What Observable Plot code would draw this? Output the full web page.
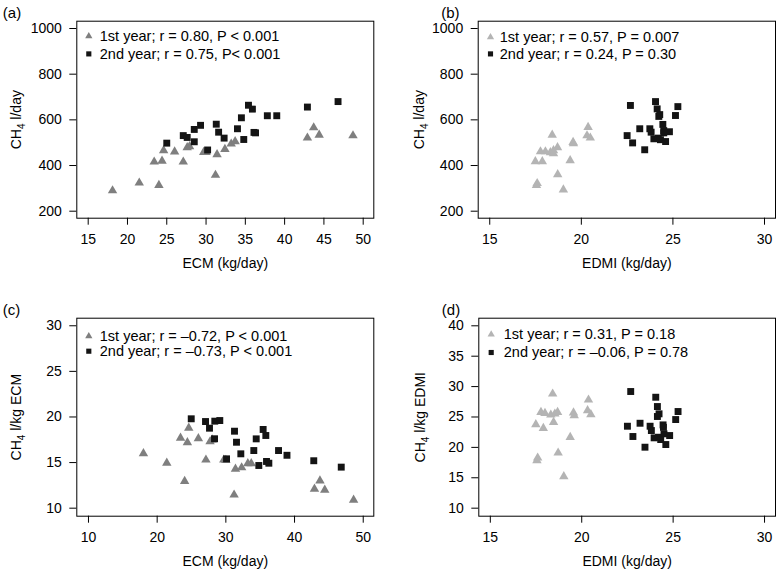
<!DOCTYPE html>
<html><head><meta charset="utf-8">
<script src="https://cdn.jsdelivr.net/npm/d3@7"></script>
<script src="https://cdn.jsdelivr.net/npm/@observablehq/plot@0.6"></script>
<style>
body{margin:0;background:#fff;}
#wrap{position:relative;width:778px;height:569px;background:#fff;overflow:hidden;}
.panel{position:absolute;}
</style></head><body><div id="wrap"></div>
<script>
// ---------- data ----------
// (a) CH4 (l/day) vs ECM (kg/day)
const a1x = [18.1, 21.5, 24.0, 23.4, 24.4, 24.6, 26.0, 27.1, 27.6, 27.9, 29.7, 30.0, 31.4, 31.2, 32.4, 33.2, 33.7, 42.9, 43.7, 44.4, 48.7];
const a1y = [290, 324, 314, 416, 420, 466, 460, 416, 479, 483, 458, 458, 448, 358, 471, 495, 505, 521, 566, 534, 531];
const a2x = [25.0, 27.1, 27.6, 28.5, 28.5, 29.3, 30.2, 31.3, 31.6, 32.3, 34.0, 34.5, 34.8, 35.4, 35.9, 36.1, 36.3, 37.8, 39.0, 42.9, 46.8];
const a2y = [498, 531, 523, 558, 504, 576, 468, 581, 546, 520, 561, 609, 514, 664, 647, 545, 543, 618, 618, 656, 680];
// (b) CH4 (l/day) vs EDMI (kg/day)
const b1x = [18.41, 17.77, 18.04, 18.31, 18.48, 18.70, 18.48, 19.55, 19.57, 17.49, 17.87, 19.39, 18.71, 17.59, 17.55, 19.02, 20.37, 20.31, 20.49];
const b1y = [534, 461, 461, 457, 466, 479, 453, 502, 496, 418, 418, 422, 361, 322, 314, 294, 568, 531, 521];
const b2x = [22.68, 24.05, 24.14, 25.27, 24.23, 24.28, 25.14, 24.45, 23.19, 23.74, 23.81, 24.50, 24.50, 24.81, 22.50, 23.96, 24.20, 24.32, 24.60, 22.80, 23.46];
const b2y = [663, 680, 648, 658, 615, 623, 619, 580, 561, 561, 546, 553, 543, 548, 531, 517, 520, 513, 505, 499, 469];
// (c) CH4 (l/kg ECM) vs ECM
const c1x = [18.0, 21.4, 24.0, 23.4, 24.6, 24.4, 26.0, 27.1, 27.7, 28.0, 29.7, 30.0, 31.2, 31.4, 32.3, 33.2, 33.7, 42.9, 43.7, 44.4, 48.6];
const c1y = [16.0, 14.95, 12.96, 17.7, 18.8, 17.2, 17.65, 15.3, 17.3, 17.5, 15.3, 15.25, 11.46, 14.3, 14.45, 14.9, 14.9, 12.1, 13.0, 12.0, 10.9];
const c2x = [24.96, 27.04, 27.62, 28.39, 29.12, 28.35, 30.10, 31.26, 31.55, 32.18, 34.07, 34.42, 35.43, 35.82, 34.8, 35.92, 36.26, 37.67, 38.9, 42.8, 46.8];
const c2y = [19.8, 19.5, 18.77, 19.54, 19.61, 17.61, 15.41, 18.44, 17.23, 15.96, 16.32, 17.6, 18.63, 17.97, 14.68, 15.12, 14.93, 16.32, 15.8, 15.2, 14.5];
// (d) CH4 (l/kg EDMI) vs EDMI
const d1x = [18.41, 17.77, 17.99, 18.31, 18.53, 18.68, 18.46, 19.55, 19.59, 17.49, 17.90, 19.37, 18.71, 17.59, 17.55, 19.02, 20.37, 20.32, 20.50];
const d1y = [28.81, 25.79, 25.62, 25.35, 25.52, 25.79, 24.14, 25.69, 25.24, 23.76, 23.15, 21.67, 19.10, 18.28, 17.84, 15.20, 27.82, 26.06, 25.40];
const d2x = [22.68, 24.05, 24.14, 24.23, 24.14, 25.27, 25.14, 24.45, 24.47, 23.19, 23.74, 23.81, 24.50, 24.81, 22.50, 23.96, 24.20, 24.32, 24.60, 22.80, 23.46];
const d2y = [29.19, 28.25, 26.72, 25.52, 25.08, 25.90, 24.58, 23.70, 23.30, 23.97, 23.48, 22.77, 22.23, 21.95, 23.48, 21.57, 21.67, 21.29, 20.47, 21.79, 20.03];

// tick labels
const ticksX_ECM_a = [15, 20, 25, 30, 35, 40, 45, 50];
const ticksX_ECM_c = [10, 20, 30, 40, 50];
const ticksX_EDMI = [15, 20, 25, 30];
const ticksY_day = [200, 400, 600, 800, 1000];
const ticksY_c = [10, 15, 20, 25, 30];
const ticksY_d = [10, 15, 20, 25, 30, 35, 40];

// legend texts
const legendA = ["1st year; r = 0.80, P < 0.001", "2nd year; r = 0.75, P< 0.001"];
const legendB = ["1st year; r = 0.57, P = 0.007", "2nd year; r = 0.24, P = 0.30"];
const legendC = ["1st year; r = \u20130.72, P < 0.001", "2nd year; r = \u20130.73, P < 0.001"];
const legendD = ["1st year; r = 0.31, P = 0.18", "2nd year; r = \u20130.06, P = 0.78"];

// ---------- drawing ----------
const FONT = "'Liberation Sans', Arial, Helvetica, sans-serif";
const pts = (xs, ys) => xs.map((x, i) => ({x, y: ys[i]}));

function panel(cfg) {
  const p = Plot.plot({
    width: 389, height: cfg.height,
    marginLeft: cfg.ml, marginRight: cfg.mr, marginTop: cfg.mt, marginBottom: cfg.mb,
    style: {fontFamily: FONT, fontSize: "14px", color: "black", background: "white"},
    x: {domain: cfg.xd},
    y: {domain: cfg.yd},
    marks: [
      Plot.frame({stroke: "black", strokeWidth: 1}),
      Plot.axisX({ticks: cfg.xt, tickSize: 7, tickPadding: 9, tickFormat: d => `${d}`,
        label: cfg.xl, labelAnchor: "center", labelOffset: 50, labelArrow: "none"}),
      Plot.axisY({ticks: cfg.yt, tickSize: 7, tickPadding: 8, tickFormat: d => `${d}`,
        label: cfg.yl, labelAnchor: "center", labelOffset: cfg.ylo, labelArrow: "none"}),
      Plot.dot(pts(cfg.x1, cfg.y1), {x: "x", y: "y", symbol: "triangle", r: 3.5, fill: cfg.c1, stroke: "none"}),
      Plot.dot(pts(cfg.x2, cfg.y2), {x: "x", y: "y", symbol: "square", r: 3.9, fill: "#141414", stroke: "none"}),
      // legend
      Plot.dot([cfg.leg[0]], {frameAnchor: "top-left", dx: cfg.ldx, dy: cfg.ldy1, symbol: "triangle", r: 2.7, fill: cfg.c1}),
      Plot.dot([cfg.leg[1]], {frameAnchor: "top-left", dx: cfg.ldx, dy: cfg.ldy2, symbol: "square", r: 2.9, fill: "#141414"}),
      Plot.text([cfg.leg[0]], {frameAnchor: "top-left", dx: cfg.ltx, dy: cfg.ldy1, textAnchor: "start", lineAnchor: "middle", fontSize: 14.5, fill: "black"}),
      Plot.text([cfg.leg[1]], {frameAnchor: "top-left", dx: cfg.ltx, dy: cfg.ldy2, textAnchor: "start", lineAnchor: "middle", fontSize: 14.5, fill: "black"}),
      // panel tag
      Plot.text([cfg.tag], {frameAnchor: "top-left", dx: cfg.tdx, dy: -8, textAnchor: "start", lineAnchor: "middle", fontSize: 15, fill: "black"})
    ]
  });
  // subscript 4 in CH4
  d3.select(p).selectAll("text").each(function() {
    const t = this.textContent;
    if (t.startsWith("CH4")) {
      const el = d3.select(this);
      el.text(null);
      el.append("tspan").text("CH");
      el.append("tspan").attr("dy", 4).attr("font-size", "10px").text("4");
      el.append("tspan").attr("dy", -4).text(t.slice(3));
    }
  });
  const div = document.createElement("div");
  div.className = "panel";
  div.style.left = cfg.left + "px";
  div.style.top = cfg.top + "px";
  div.appendChild(p);
  document.getElementById("wrap").appendChild(div);
}

panel({left: 0, top: 0, height: 285, ml: 76.3, mr: 15.7, mt: 20.7, mb: 67.3,
  xd: [13.55, 51.35], yd: [169.3, 1032], xt: ticksX_ECM_a, yt: ticksY_day,
  xl: "ECM (kg/day)", yl: "CH4 l/day", ylo: 66,
  x1: a1x, y1: a1y, x2: a2x, y2: a2y, c1: "#7f7f7f",
  leg: legendA, ldx: 12, ltx: 23, ldy1: 15, ldy2: 32.7, tag: "(a)", tdx: -74});

panel({left: 389, top: 0, height: 285, ml: 88.7, mr: 3, mt: 20.7, mb: 67.3,
  xd: [14.37, 30.6], yd: [169.3, 1032], xt: ticksX_EDMI, yt: ticksY_day,
  xl: "EDMI (kg/day)", yl: "CH4 l/day", ylo: 64,
  x1: b1x, y1: b1y, x2: b2x, y2: b2y, c1: "#b4b4b4",
  leg: legendB, ldx: 12.3, ltx: 21.6, ldy1: 16, ldy2: 32.7, tag: "(b)", tdx: -37});

panel({left: 0, top: 285, height: 284, ml: 76.3, mr: 15.7, mt: 32.7, mb: 53.3,
  xd: [8.3, 51.54], yd: [9.12, 30.83], xt: ticksX_ECM_c, yt: ticksY_c,
  xl: "ECM (kg/day)", yl: "CH4 l/kg ECM", ylo: 66,
  x1: c1x, y1: c1y, x2: c2x, y2: c2y, c1: "#7f7f7f",
  leg: legendC, ldx: 12, ltx: 23, ldy1: 18, ldy2: 33, tag: "(c)", tdx: -74});

panel({left: 389, top: 285, height: 284, ml: 89.3, mr: 3, mt: 32.7, mb: 53.3,
  xd: [14.37, 30.6], yd: [8.68, 41.25], xt: ticksX_EDMI, yt: ticksY_d,
  xl: "EDMI (kg/day)", yl: "CH4 l/kg EDMI", ylo: 64,
  x1: d1x, y1: d1y, x2: d2x, y2: d2y, c1: "#b4b4b4",
  leg: legendD, ldx: 12.4, ltx: 25, ldy1: 16.3, ldy2: 34.3, tag: "(d)", tdx: -37});
</script>
</body></html>
